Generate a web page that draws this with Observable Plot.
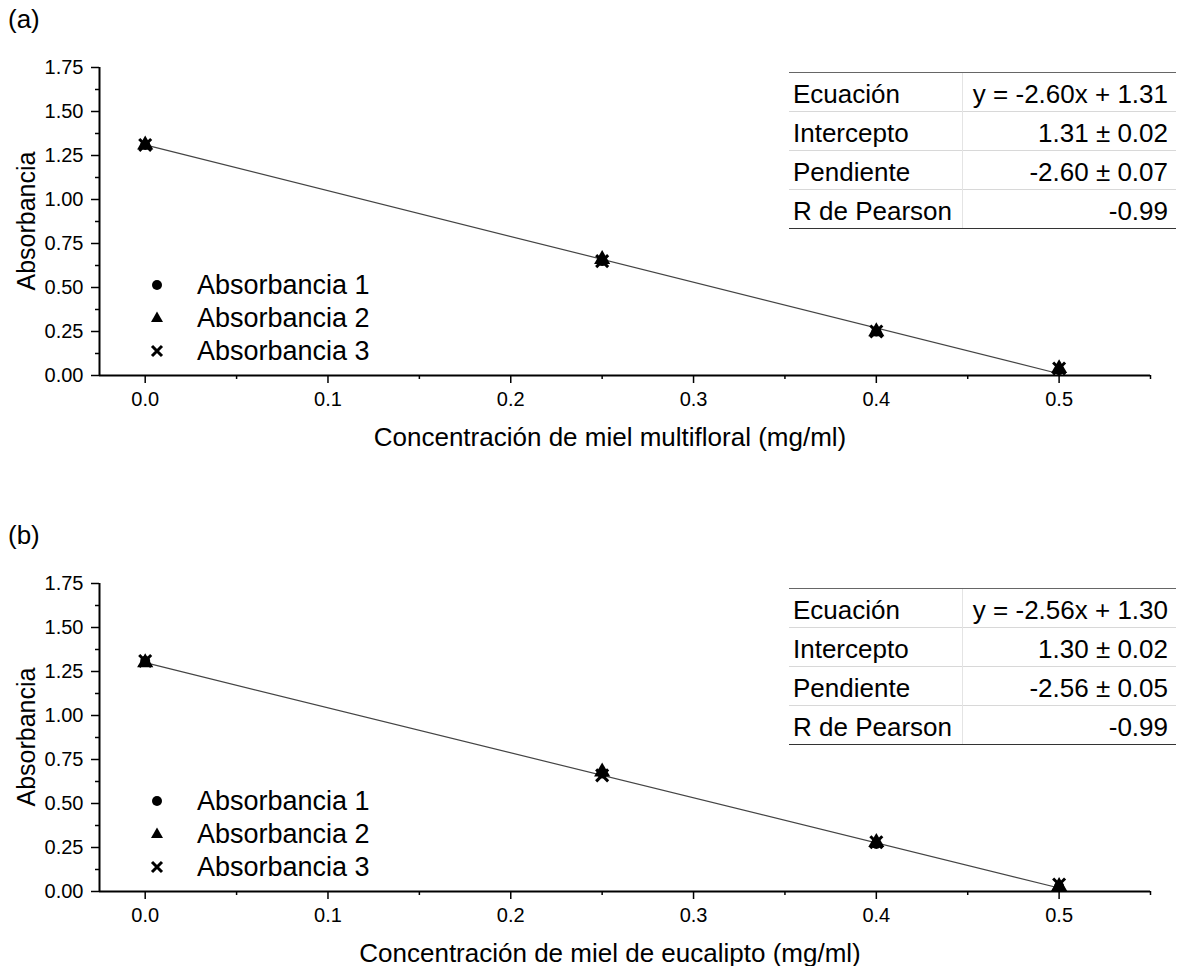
<!DOCTYPE html>
<html><head><meta charset="utf-8">
<script src="https://cdn.jsdelivr.net/npm/d3@7"></script>
<script src="https://cdn.jsdelivr.net/npm/@observablehq/plot@0.6"></script>
<style>
body{margin:0;background:#fff;font-family:Arial,"Liberation Sans",sans-serif;color:#000}
#root{position:relative;width:1180px;height:966px;overflow:hidden;background:#fff}
.panel{position:absolute;left:0;width:1180px;height:450px}
.abs{position:absolute;white-space:nowrap}
.plabel{font-size:26px;left:8px}
.ylab{font-size:25px;transform:translate(-50%,-50%) rotate(-90deg)}
.xlab{font-size:26px;transform:translate(-50%,-50%)}
.leg{font-size:27px;line-height:32px}
.legrow{display:flex;align-items:center;height:33px}
.legrow svg{width:24px;height:24px;margin-left:-12px;margin-right:28px}
table.stats{position:absolute;border-collapse:collapse;font-size:26px;width:387px}
table.stats td{height:35px;padding:3px 6px 0 4px;border-top:1px solid #d8d8d8;vertical-align:middle;line-height:30px}
table.stats tr:first-child td{border-top:1.5px solid #666}
table.stats tr:last-child td{border-bottom:1.5px solid #333}
table.stats td.v{text-align:right;border-left:1px solid #e4e4e4;padding-right:8px}
</style></head><body><div id="root"></div>
<script>
// ---- data ----
const concentrations = [0, 0.25, 0.4, 0.5];
const seriesNames = ["Absorbancia 1", "Absorbancia 2", "Absorbancia 3"];
const multifloralAbs1 = [1.31, 0.65, 0.25, 0.03];
const multifloralAbs2 = [1.31, 0.66, 0.25, 0.04];
const multifloralAbs3 = [1.31, 0.65, 0.25, 0.04];
const eucaliptoAbs1 = [1.31, 0.67, 0.27, 0.03];
const eucaliptoAbs2 = [1.30, 0.68, 0.28, 0.03];
const eucaliptoAbs3 = [1.31, 0.66, 0.28, 0.04];
const multifloralFit = [1.31, 0.01];   // fitted line at x = 0 and x = 0.5
const eucaliptoFit = [1.30, 0.02];
const fitX = [0, 0.5];
const xTicks = [0, 0.1, 0.2, 0.3, 0.4, 0.5];
const xMinorTicks = [0.05, 0.15, 0.25, 0.35, 0.45, 0.55];
const yTicks = [0, 0.25, 0.5, 0.75, 1.0, 1.25, 1.5, 1.75];
const yMinorTicks = [0.125, 0.375, 0.625, 0.875, 1.125, 1.375, 1.625];
const tableLabels = ["Ecuación", "Intercepto", "Pendiente", "R de Pearson"];
const multifloralStats = ["y = -2.60x + 1.31", "1.31 ± 0.02", "-2.60 ± 0.07", "-0.99"];
const eucaliptoStats = ["y = -2.56x + 1.30", "1.30 ± 0.02", "-2.56 ± 0.05", "-0.99"];
const panelLabels = ["(a)", "(b)"];
const xLabels = ["Concentración de miel multifloral (mg/ml)", "Concentración de miel de eucalipto (mg/ml)"];
const yLabel = "Absorbancia";

const root = document.getElementById("root");
const FONT = "Arial, 'Liberation Sans', sans-serif";

function makePanel(series, fitY) {
  const pts = [];
  series.forEach((vals, i) => vals.forEach((v, j) => pts.push({x: concentrations[j], y: v, s: seriesNames[i]})));
  const fit = fitX.map((x, i) => ({x, y: fitY[i]}));
  const bySeries = (n) => pts.filter(d => d.s === seriesNames[n]);
  return Plot.plot({
    width: 1180, height: 450,
    marginTop: 67, marginBottom: 75, marginLeft: 99, marginRight: 30,
    x: {domain: [-0.025, 0.55]},
    y: {domain: [0, 1.75]},
    style: {fontFamily: FONT, fontSize: "20px", color: "#000", background: "#fff", overflow: "visible"},
    marks: [
      Plot.axisX(xMinorTicks, {tickSize: 4, tickFormat: () => "", label: null, strokeWidth: 1.5}),
      Plot.axisX(xTicks, {tickSize: 8, tickPadding: 8, tickFormat: d3.format(".1f"), label: null, fontSize: 20, strokeWidth: 1.5}),
      Plot.axisY(yMinorTicks, {tickSize: 4, tickFormat: () => "", label: null, strokeWidth: 1.5}),
      Plot.axisY(yTicks, {tickSize: 8, tickPadding: 8, tickFormat: d3.format(".2f"), label: null, fontSize: 20, strokeWidth: 1.5}),
      Plot.ruleY([0], {stroke: "#000", strokeWidth: 2}),
      Plot.ruleX([-0.025], {stroke: "#000", strokeWidth: 2}),
      Plot.line(fit, {x: "x", y: "y", stroke: "#444", strokeWidth: 1.2}),
      Plot.dot(bySeries(0), {x: "x", y: "y", symbol: "circle", r: 5, fill: "#000"}),
      Plot.dot(bySeries(1), {x: "x", y: "y", symbol: "triangle", r: 6, fill: "#000"}),
      Plot.dot(bySeries(2), {x: "x", y: "y", symbol: "times", r: 5.5, stroke: "#000", strokeWidth: 3, fill: "none"})
    ]
  });
}

const symbolSvgs = [
  '<svg viewBox="-12 -12 24 24"><circle r="5" fill="#000"/></svg>',
  '<svg viewBox="-12 -12 24 24"><path d="M0,-6.5L6,4L-6,4Z" fill="#000"/></svg>',
  '<svg viewBox="-12 -12 24 24"><path d="M-5,-5L5,5M5,-5L-5,5" stroke="#000" stroke-width="3"/></svg>'
];

const panels = [
  {top: 0, series: [multifloralAbs1, multifloralAbs2, multifloralAbs3], fit: multifloralFit, stats: multifloralStats},
  {top: 516, series: [eucaliptoAbs1, eucaliptoAbs2, eucaliptoAbs3], fit: eucaliptoFit, stats: eucaliptoStats}
];

panels.forEach((p, k) => {
  const wrap = document.createElement("div");
  wrap.className = "panel";
  wrap.style.top = p.top + "px";
  wrap.appendChild(makePanel(p.series, p.fit));
  root.appendChild(wrap);

  const pl = document.createElement("div");
  pl.className = "abs plabel";
  pl.style.top = (p.top + 4) + "px";
  pl.textContent = panelLabels[k];
  root.appendChild(pl);

  const yl = document.createElement("div");
  yl.className = "abs ylab";
  yl.style.left = "26px"; yl.style.top = (p.top + 221) + "px";
  yl.textContent = yLabel;
  root.appendChild(yl);

  const xl = document.createElement("div");
  xl.className = "abs xlab";
  xl.style.left = "610px"; xl.style.top = (p.top + 437) + "px";
  xl.textContent = xLabels[k];
  root.appendChild(xl);

  const leg = document.createElement("div");
  leg.className = "abs leg";
  leg.style.left = "157px"; leg.style.top = (p.top + 268) + "px";
  leg.innerHTML = seriesNames.map((n, i) => `<div class="legrow">${symbolSvgs[i]}<span>${n}</span></div>`).join("");
  root.appendChild(leg);

  const tb = document.createElement("table");
  tb.className = "stats";
  tb.style.left = "789px"; tb.style.top = (p.top + 72) + "px";
  tb.innerHTML = tableLabels.map((l, i) => `<tr><td>${l}</td><td class="v">${p.stats[i]}</td></tr>`).join("");
  root.appendChild(tb);
});
</script></body></html>
